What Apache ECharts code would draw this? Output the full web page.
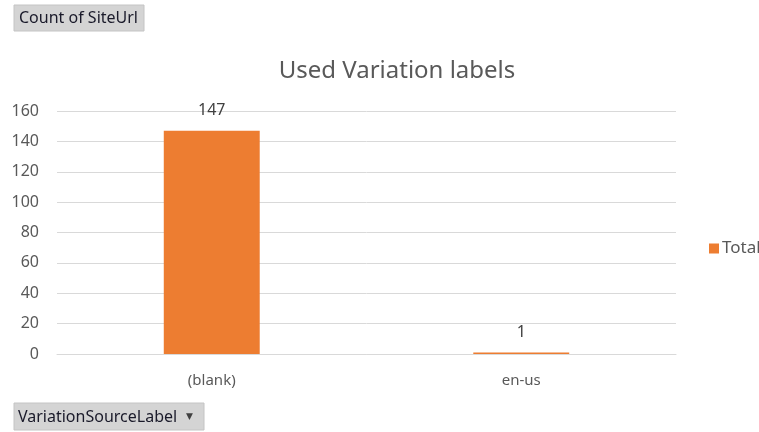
<!DOCTYPE html>
<html><head><meta charset="utf-8">
<script src="https://cdn.jsdelivr.net/npm/echarts@6/dist/echarts.min.js"></script>
<style>html,body{margin:0;padding:0;background:#fff}#c{width:759px;height:432px}</style>
</head><body><div id="c"></div>
<script>
const categories = ['(blank)', 'en-us'];
const totalValues = [147, 1];
const yTicks = [0, 20, 40, 60, 80, 100, 120, 140, 160];
const seriesName = 'Total';
const titleText = 'Used Variation labels';
const topButtonText = 'Count of SiteUrl';
const bottomButtonText = 'VariationSourceLabel';

const chart = echarts.init(document.getElementById('c'));
const FONT = '"Noto Sans", "Open Sans", sans-serif';
chart.setOption({
  animation: false,
  title: {
    text: titleText, left: 392, top: 54, textAlign: 'center',
    textStyle: { fontFamily: FONT, fontSize: 24, fontWeight: 'normal', color: '#595959' }
  },
  legend: {
    data: [seriesName], left: 704, top: 235, orient: 'vertical',
    itemWidth: 10, itemHeight: 10, itemGap: 4,
    textStyle: { fontFamily: FONT, fontSize: 17, color: '#595959', padding: [0, 0, 0, -2] },
    icon: 'rect'
  },
  grid: { left: 57, right: 83, top: 111, bottom: 78, containLabel: false },
  xAxis: {
    type: 'category', data: categories,
    axisLine: { show: true, lineStyle: { color: '#d9d9d9' } },
    axisTick: { show: false },
    axisLabel: { fontFamily: FONT, fontSize: 15, color: '#595959', margin: 19 }
  },
  yAxis: {
    type: 'value', min: yTicks[0], max: yTicks[yTicks.length - 1], interval: 20,
    axisLine: { show: false }, axisTick: { show: false },
    splitLine: { lineStyle: { color: '#d9d9d9' } },
    axisLabel: { fontFamily: FONT, fontSize: 16, color: '#595959', margin: 18, align: 'right' }
  },
  series: [{
    name: seriesName, type: 'bar', data: totalValues, barWidth: '31%',
    itemStyle: { color: '#ED7D31' },
    label: { show: true, position: 'top', distance: 12, fontFamily: FONT, fontSize: 16, color: '#404040' }
  }],
  graphic: [
    { type: 'rect', shape: { x: 14, y: 5, width: 130, height: 26 },
      style: { fill: '#d4d4d4', stroke: '#c4c4c4' } },
    { type: 'text', x: 19, y: 18,
      style: { text: topButtonText, font: '16px "Noto Sans", sans-serif', fill: '#1a1a2a', verticalAlign: 'middle' } },
    { type: 'rect', shape: { x: 14, y: 403, width: 190, height: 27 },
      style: { fill: '#d4d4d4', stroke: '#c4c4c4' } },
    { type: 'text', x: 18, y: 417,
      style: { text: bottomButtonText, font: '16px "Noto Sans", sans-serif', fill: '#1a1a2a', verticalAlign: 'middle' } },
    { type: 'text', x: 186, y: 417,
      style: { text: '\u25BC', font: '9px "DejaVu Sans", sans-serif', fill: '#404040', verticalAlign: 'middle' } }
  ]
});
</script></body></html>
